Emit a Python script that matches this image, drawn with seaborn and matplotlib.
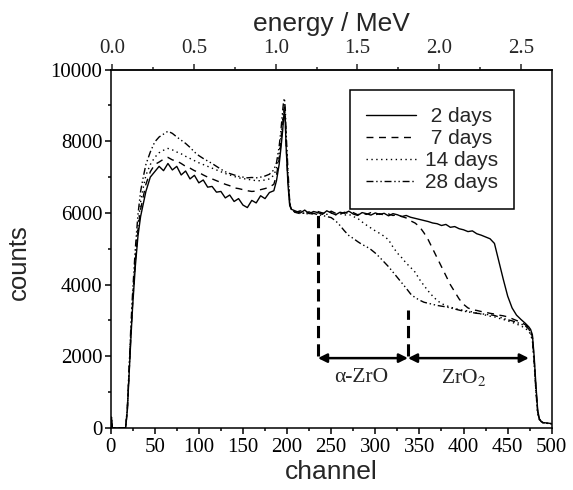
import numpy as np
import pandas as pd
import seaborn as sns
import matplotlib
matplotlib.use('Agg')
from matplotlib import pyplot as plt
from matplotlib.ticker import MultipleLocator, FixedLocator, FormatStrFormatter

# channel grid, shared by all four spectra
channel = [0, 1, 2, 5, 10, 15, 17, 19, 21, 23, 25, 28, 31, 34, 37, 40,
           45, 50, 55, 60, 65, 70, 75, 80, 85, 90, 95, 100, 105, 110, 115,
           120, 125, 130, 135, 140, 145, 150, 155, 160, 165, 170, 175, 180, 185,
           188, 191, 193, 195, 196, 197, 198, 199, 201, 203, 205,
           210, 215, 220, 225, 230, 235, 240, 245, 250, 255, 260, 265, 270, 275, 280,
           285, 290, 295, 300, 305, 310, 315, 320, 325, 330, 335, 340, 345, 350, 355,
           360, 365, 370, 375, 380, 385, 390, 395, 400, 405, 410, 415, 420, 425, 430,
           435, 440, 445, 450, 455, 460, 465, 470,
           474, 476, 478, 480, 482, 484, 486, 488, 490, 495, 500]

counts_2d = [0, 300, 0, 0, 0, 0, 0, 500, 1500, 2500, 3400, 4500, 5350, 5900, 6250, 6600,
             7000, 7150, 7300, 7180, 7380, 7200, 7300, 7060, 7170, 6950, 7050, 6840, 6920, 6720, 6740,
             6580, 6600, 6420, 6500, 6320, 6400, 6220, 6150, 6350, 6280, 6480, 6400, 6570, 6620,
             6900, 7350, 7800, 8300, 8650, 8850, 8500, 7800, 6800, 6200, 6100,
             6050, 6000, 6080, 5980, 6040, 6010, 5960, 6060, 6000, 5950, 6020, 5990, 6050, 5970, 5930,
             6010, 5980, 5940, 6000, 5960, 5990, 5920, 5980, 5950, 5900, 5930, 5880, 5850, 5820, 5790,
             5760, 5720, 5700, 5650, 5680, 5600, 5620, 5560, 5530, 5480, 5500, 5420, 5380, 5330, 5280,
             5150, 4650, 4150, 3680, 3350, 3150, 3030, 2920,
             2820, 2750, 2600, 2000, 1200, 500, 250, 180, 150, 140, 120]

counts_7d = [0, 250, 0, 0, 0, 0, 0, 500, 1550, 2600, 3500, 4650, 5500, 6100, 6450, 6800,
             7150, 7350, 7420, 7500, 7550, 7480, 7450, 7380, 7300, 7250, 7180, 7130, 7060, 7000, 6950,
             6900, 6850, 6800, 6760, 6700, 6680, 6650, 6620, 6600, 6610, 6650, 6680, 6720, 6800,
             7050, 7500, 7950, 8450, 8750, 8950, 8600, 7900, 6900, 6250, 6100,
             6020, 6060, 5990, 6030, 5970, 6040, 6000, 5980, 6050, 5990, 5960, 6020, 5980, 6010, 5950,
             5990, 5960, 6010, 5950, 5980, 5940, 5970, 5930, 5950, 5900, 5860, 5780, 5720, 5620, 5450,
             5250, 5000, 4750, 4500, 4250, 4000, 3800, 3600, 3450, 3350, 3300, 3280, 3250, 3230, 3200,
             3180, 3150, 3130, 3100, 3050, 3000, 2950, 2880,
             2800, 2700, 2550, 1900, 1100, 450, 250, 180, 150, 140, 120]

counts_14d = [0, 250, 0, 0, 0, 0, 0, 550, 1600, 2700, 3600, 4750, 5650, 6300, 6700, 7050,
              7350, 7550, 7680, 7750, 7800, 7760, 7700, 7650, 7580, 7520, 7460, 7400, 7350, 7300, 7250,
              7200, 7150, 7100, 7060, 7020, 6980, 6960, 6940, 6920, 6900, 6900, 6920, 6950, 7050,
              7250, 7650, 8100, 8600, 8900, 9050, 8700, 8000, 7000, 6300, 6100,
              6000, 6040, 5980, 6020, 5970, 6010, 5990, 5960, 6000, 5950, 5980, 5940, 5960, 5900, 5850,
              5750, 5660, 5580, 5500, 5430, 5350, 5250, 5050, 4880, 4750, 4600, 4480, 4350, 4150, 3980,
              3820, 3680, 3560, 3470, 3420, 3370, 3340, 3300, 3290, 3260, 3240, 3210, 3180, 3150, 3120,
              3100, 3060, 3030, 2990, 2950, 2900, 2850, 2780,
              2700, 2600, 2450, 1800, 1000, 400, 230, 170, 150, 130, 120]

counts_28d = [0, 300, 0, 0, 0, 0, 0, 600, 1700, 2850, 3800, 5000, 5950, 6600, 7000, 7350,
              7700, 7980, 8120, 8200, 8280, 8220, 8120, 8030, 7940, 7830, 7700, 7600, 7520, 7450, 7380,
              7300, 7220, 7150, 7100, 7060, 7020, 7000, 6980, 6990, 6980, 7000, 7030, 7080, 7200,
              7400, 7850, 8300, 8850, 9100, 9200, 8900, 8200, 7200, 6300, 6080,
              6010, 5980, 6000, 5960, 5990, 5950, 5930, 5900, 5870, 5780, 5650, 5500, 5370, 5290, 5200,
              5120, 5060, 4980, 4880, 4760, 4630, 4500, 4350, 4200, 4050, 3900, 3740, 3640, 3570, 3510,
              3480, 3450, 3420, 3400, 3380, 3350, 3320, 3290, 3260, 3240, 3220, 3200, 3190, 3170, 3160,
              3140, 3100, 3060, 3020, 2990, 2950, 2900, 2850,
              2760, 2660, 2500, 1900, 1050, 420, 240, 180, 150, 130, 120]

series_labels = [' 2 days', ' 7 days', '14 days', '28 days']

# layer boundaries (channel) and marker heights (counts)
boundary_ch = [235, 337]
boundary_top = [6000, 3300]
boundary_bottom = 2000
arrow_level = 1950
zro2_end = 474
layer_names = ['\u03b1-ZrO', 'ZrO$_2$']
layer_name_pos = [(284, 1400), (400, 1400)]

# energy axis: calibration and ticks
E_OFFSET_CH = 2
MEV_PER_CH = 0.0054
energy_major = [0.0, 0.5, 1.0, 1.5, 2.0, 2.5]
energy_minor = [0.25, 0.75, 1.25, 1.75, 2.25]

sns.set_theme(style='ticks')
plt.rcParams['font.family'] = ['Liberation Serif', 'DejaVu Serif']
plt.rcParams['mathtext.fontset'] = 'stix'

df = pd.DataFrame({'channel': channel, ' 2 days': counts_2d, ' 7 days': counts_7d,
                   '14 days': counts_14d, '28 days': counts_28d})

fig = plt.figure(figsize=(5.73, 4.9), dpi=100)
ax = fig.add_axes([0.193, 0.1265, 0.770, 0.7315])

styles = ['-', (0, (5, 4)), (0, (1, 2.5)), (0, (5, 2, 1, 2, 1, 2))]
for name, ls in zip(series_labels, styles):
    sns.lineplot(data=df, x='channel', y=name, ax=ax, color='black', lw=1.0,
                 linestyle=ls, label=name)

ax.vlines(boundary_ch, boundary_bottom, boundary_top, colors='black', lw=2.2,
          linestyles=[(0, (4, 2))])
arrow_kw = dict(arrowstyle='<|-|>', lw=1.8, color='black', mutation_scale=13,
                shrinkA=0, shrinkB=0)
ax.annotate('', xy=(boundary_ch[0], arrow_level), xytext=(boundary_ch[1], arrow_level),
            arrowprops=arrow_kw)
ax.annotate('', xy=(boundary_ch[1], arrow_level), xytext=(zro2_end, arrow_level),
            arrowprops=arrow_kw)
for txt, (cx, cy) in zip(layer_names, layer_name_pos):
    ax.text(cx, cy, txt, ha='center', va='center', fontsize=15.5,
            fontfamily='Liberation Serif')

ax.set_xlim(0, 500)
ax.set_ylim(0, 10000)
ax.xaxis.set_major_locator(MultipleLocator(50))
ax.xaxis.set_minor_locator(MultipleLocator(25))
ax.yaxis.set_major_locator(MultipleLocator(2000))
ax.yaxis.set_minor_locator(MultipleLocator(1000))
ax.tick_params(which='both', direction='out', top=False, right=False, width=1.1,
               labelsize=15, colors='black')
ax.tick_params(which='major', length=4.5)
ax.tick_params(which='minor', length=2.5)
ax.tick_params(axis='y', pad=1.5)
ax.tick_params(axis='x', pad=3)
for sp in ax.spines.values():
    sp.set_linewidth(1.1)
    sp.set_color('black')

ax.set_xlabel('channel', fontfamily='Liberation Sans', fontsize=19, labelpad=2)
ax.set_ylabel('counts', fontfamily='Liberation Sans', fontsize=18.5)
ax.yaxis.set_label_coords(-0.18, 0.463)

secax = ax.secondary_xaxis('top', functions=(lambda c: (c - E_OFFSET_CH) * MEV_PER_CH,
                                             lambda e: e / MEV_PER_CH + E_OFFSET_CH))
secax.xaxis.set_major_locator(FixedLocator(energy_major))
secax.xaxis.set_minor_locator(FixedLocator(energy_minor))
secax.xaxis.set_major_formatter(FormatStrFormatter('%.1f'))
secax.tick_params(which='both', direction='out', width=1.1, labelsize=15, pad=4)
secax.tick_params(which='major', length=4)
secax.tick_params(which='minor', length=2)
secax.spines['top'].set_linewidth(1.1)
secax.set_xlabel('energy / MeV', fontfamily='Liberation Sans', fontsize=19, labelpad=6)

leg = ax.legend(loc='upper right', bbox_to_anchor=(0.939, 0.971), frameon=True,
                fancybox=False, framealpha=1, edgecolor='black', borderpad=0.8,
                handlelength=2.4, handletextpad=0.4, labelspacing=0.15,
                prop={'family': 'Liberation Sans', 'size': 15})
leg.get_frame().set_linewidth(1.1)

fig.savefig('out.png', dpi=100)
